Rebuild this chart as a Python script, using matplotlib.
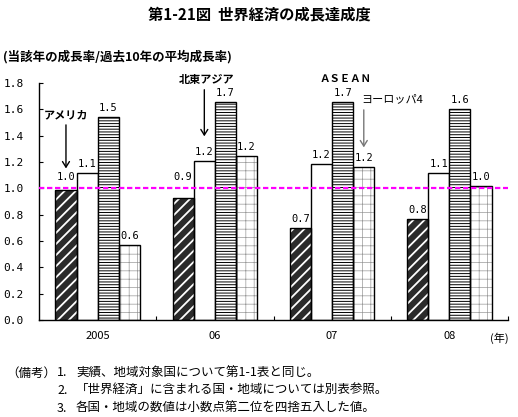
import numpy as np
import matplotlib
matplotlib.use("Agg")
import matplotlib.pyplot as plt

plt.rcParams['font.family'] = ['Noto Sans CJK JP', 'DejaVu Sans']
plt.rcParams['hatch.linewidth'] = 0.8

years = ['2005', '06', '07', '08']
america = [0.985, 0.924, 0.696, 0.765]
ne_asia = [1.114, 1.207, 1.182, 1.114]
asean = [1.539, 1.655, 1.655, 1.600]
europe4 = [0.567, 1.243, 1.159, 1.017]
y_ticks = [0.0, 0.2, 0.4, 0.6, 0.8, 1.0, 1.2, 1.4, 1.6, 1.8]

title = '第1-21図  世界経済の成長達成度'
ylabel = '(当該年の成長率/過去10年の平均成長率)'
notes = [
    ('（備考）', '1.', '実績、地域対象国について第1-1表と同じ。'),
    ('', '2.', '「世界経済」に含まれる国・地域については別表参照。'),
    ('', '3.', '各国・地域の数値は小数点第二位を四捨五入した値。'),
]

W, H = 518, 417
fig = plt.figure(figsize=(W / 100, H / 100), dpi=100)
ax = fig.add_axes([39 / W, 97 / H, 469 / W, 237 / H])

x = np.arange(len(years))
w = 0.18
mono = 'DejaVu Sans Mono'


def hatched_bars(xs, vals, face, hatch, hcolor, hlw):
    b = ax.bar(xs, vals, w, color=face, edgecolor=hcolor, linewidth=0,
               hatch=hatch, zorder=2)
    for p in b:
        if hasattr(p, 'set_hatch_linewidth'):
            p.set_hatch_linewidth(hlw)
    ax.bar(xs, vals, w, fill=False, edgecolor='black', linewidth=1.0, zorder=2.5)


hatched_bars(x - 1.5 * w, america, '#2b2b2b', '///', 'white', 1.3)
ax.bar(x - 0.5 * w, ne_asia, w, color='white', edgecolor='black', linewidth=1.0, zorder=2)
hatched_bars(x + 0.5 * w, asean, 'white', '------', 'black', 0.7)
hatched_bars(x + 1.5 * w, europe4, 'white', '++', '#999999', 0.5)

# value labels; the ones just under the 1.0 line are lifted above it
for off, vals in zip([-1.5, -0.5, 0.5, 1.5], [america, ne_asia, asean, europe4]):
    for xi, v in zip(x, vals):
        ly = 1.015 if 0.85 < v < 1.015 else v
        ax.annotate(f'{v:.1f}', (xi + off * w, ly), xytext=(0, 4.5),
                    textcoords='offset points', ha='center', va='baseline',
                    fontsize=7.5, family=mono, annotation_clip=False)

ax.axhline(1.0, color='#ff00ff', lw=1.6, dashes=(2.4, 1.2), zorder=3)

# region callouts
arrow = '->,head_length=0.4,head_width=0.25'
ax.text(-0.27, 1.557, 'アメリカ', ha='center', va='center', fontsize=8, weight='bold')
ax.annotate('', xy=(-0.27, 1.13), xytext=(-0.27, 1.503),
            arrowprops=dict(arrowstyle=arrow, lw=1, color='black'))
ax.text(0.933, 1.83, '北東アジア', ha='center', va='center', fontsize=8, weight='bold',
        clip_on=False)
ax.annotate('', xy=(0.91, 1.374), xytext=(0.91, 1.77), annotation_clip=False,
            arrowprops=dict(arrowstyle=arrow, lw=1, color='black'))
ax.text(2.11, 1.83, 'ＡＳＥＡＮ', ha='center', va='center', fontsize=7.5, weight='bold',
        clip_on=False)
ax.text(2.51, 1.678, 'ヨーロッパ4', ha='center', va='center', fontsize=8)
ax.annotate('', xy=(2.27, 1.29), xytext=(2.27, 1.617),
            arrowprops=dict(arrowstyle=arrow, lw=1, color='#777777'))

ax.set_xlim(-0.5, 3.5)
ax.set_ylim(0, 1.8)
ax.set_xticks(x)
ax.set_xticklabels(years)
ax.set_xticks([0.5, 1.5, 2.5, 3.5], minor=True)
ax.tick_params(axis='x', which='major', length=0, pad=8, labelsize=8)
ax.tick_params(axis='x', which='minor', direction='in', length=3, width=0.8)
ax.set_yticks(y_ticks)
ax.set_yticklabels([f'{t:.1f}' for t in y_ticks], family=mono)
ax.tick_params(axis='y', direction='in', length=3, width=0.8, pad=11, labelsize=8)
for s in ['top', 'right']:
    ax.spines[s].set_visible(False)
for s in ['left', 'bottom']:
    ax.spines[s].set_linewidth(1.0)

fig.text(499 / W, 1 - 338 / H, '(年)', ha='center', va='center', fontsize=8)
fig.text(0.5, 1 - 14 / H, title, ha='center', va='center', fontsize=11, weight='bold')
fig.text(3 / W, 1 - 57 / H, ylabel, ha='left', va='center', fontsize=9, weight='bold')

for i, (head, num, body) in enumerate(notes):
    yy = 1 - (373 + 17.5 * i) / H
    if head:
        fig.text(6 / W, yy, head, ha='left', va='center', fontsize=9)
    fig.text(57 / W, yy, num, ha='left', va='center', fontsize=9)
    fig.text(76 / W, yy, body, ha='left', va='center', fontsize=9)

fig.savefig('out.png', dpi=100)
